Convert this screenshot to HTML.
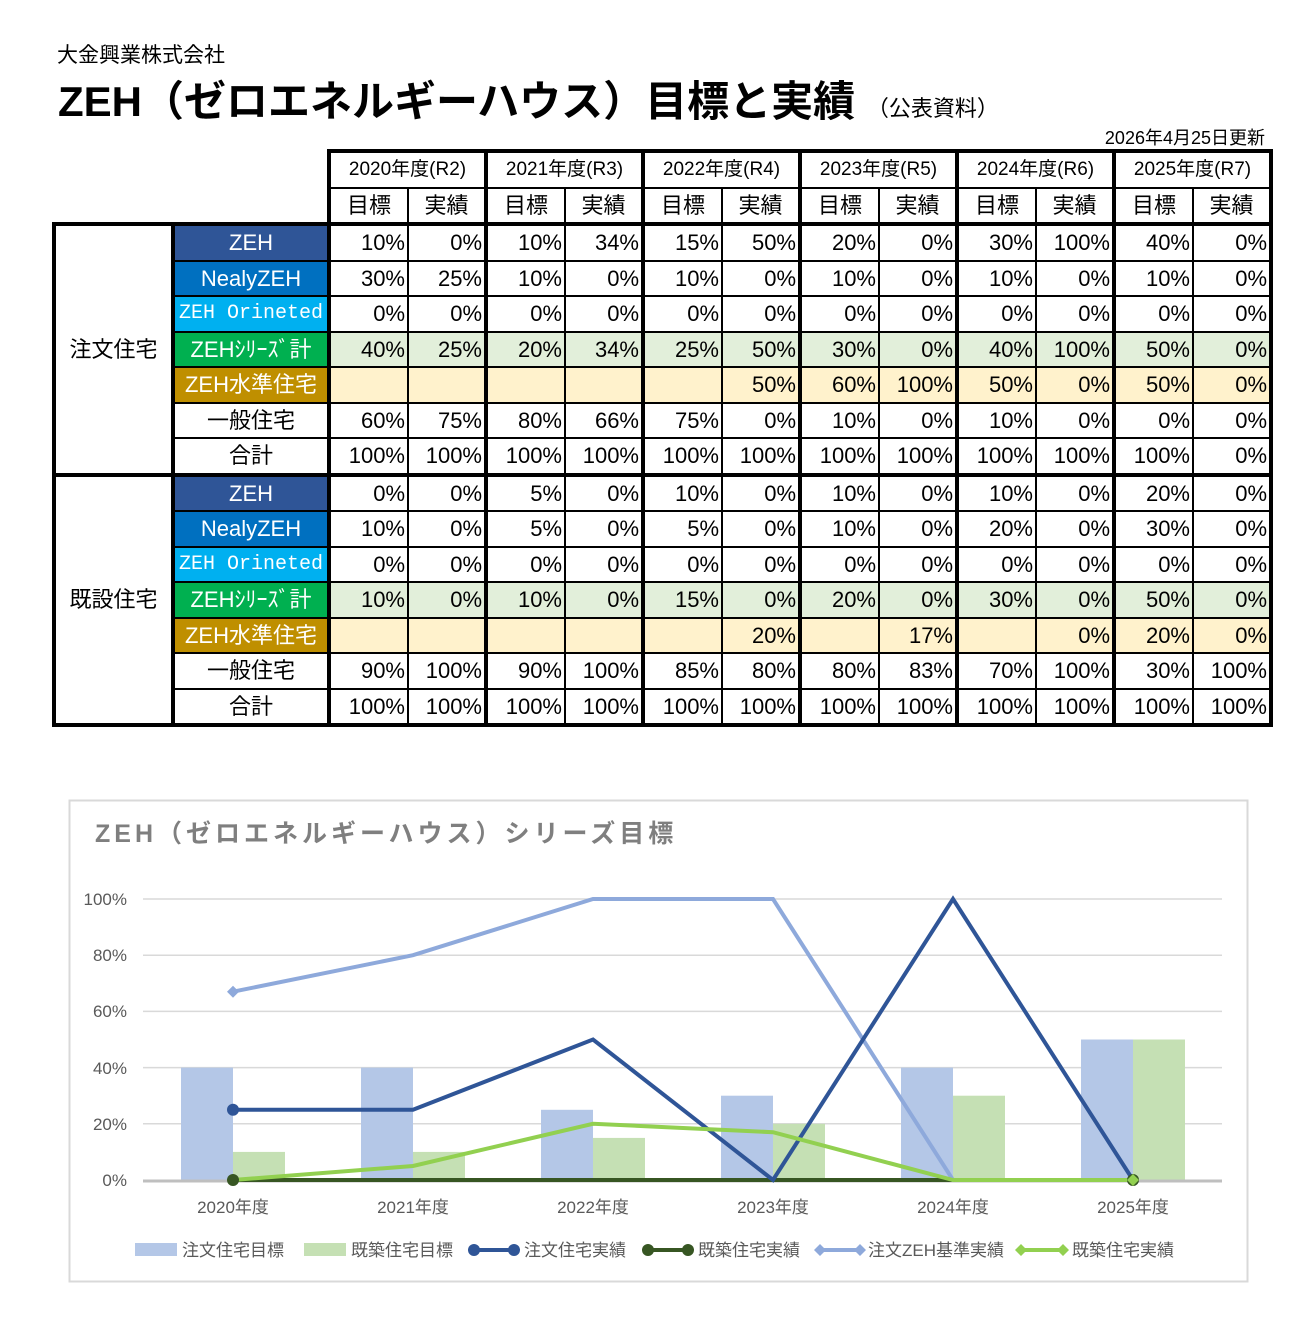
<!DOCTYPE html>
<html><head><meta charset="utf-8">
<style>
body{margin:0;background:#fff;width:1312px;height:1327px;position:relative;overflow:hidden;font-family:"Liberation Sans","Noto Sans CJK JP",sans-serif;}
.t1{position:absolute;left:57px;top:39px;font-size:21px;}
.t2{position:absolute;left:58px;top:68px;font-size:42px;font-weight:bold;transform:scaleX(1.0);transform-origin:left;white-space:nowrap;letter-spacing:0px}
.t2 small{font-size:22px;font-weight:normal}
.dt{position:absolute;right:47px;top:124px;font-size:18px;}
table{position:absolute;left:52px;top:149px;border-collapse:collapse;table-layout:fixed;font-family:"Liberation Sans Narrow","Liberation Sans","Noto Sans CJK JP",sans-serif;}
td{border:2px solid #000;height:33.5px;padding:0 2px;font-size:22px;text-align:right;white-space:nowrap;overflow:hidden;line-height:33px}
td.n{border:none}
td.h{text-align:center;font-size:19px}
td.hs{text-align:center;font-size:22px}
td.L{border-left:4px solid #000}
td.R{border-right:4px solid #000}
td.T{border-top:4px solid #000}
td.B{border-bottom:4px solid #000}
td.g{text-align:center;border:4px solid #000;font-size:22px;background:#fff}
td.c{text-align:center;color:#fff;border-left:4px solid #000;border-right:4px solid #000}
td.cw{text-align:center;color:#000;border-left:4px solid #000;border-right:4px solid #000}
.z1{background:#2F5597}.z2{background:#0070C0}.z3{background:#00B0F0}.z4{background:#00B050}.z5{background:#BF8F00}
tr.s td:not(.c){background:#E2EFDA}
tr.k td:not(.c){background:#FFF2CC}
</style></head><body>
<div class="t1">大金興業株式会社</div>
<div class="t2">ZEH（ゼロエネルギーハウス）目標と実績 <small>（公表資料）</small></div>
<div class="dt">2026年4月25日更新</div>
<table>
<colgroup><col style="width:119px"><col style="width:156px"><col style="width:79px"><col style="width:78px"><col style="width:79px"><col style="width:78px"><col style="width:79px"><col style="width:78px"><col style="width:79px"><col style="width:78px"><col style="width:79px"><col style="width:78px"><col style="width:79px"><col style="width:78px"></colgroup>
<tr><td class="n"></td><td class="n"></td><td colspan="2" class="h L T">2020年度(R2)</td><td colspan="2" class="h L T">2021年度(R3)</td><td colspan="2" class="h L T">2022年度(R4)</td><td colspan="2" class="h L T">2023年度(R5)</td><td colspan="2" class="h L T">2024年度(R6)</td><td colspan="2" class="h L T R">2025年度(R7)</td></tr>
<tr><td class="n"></td><td class="n"></td><td class="hs L">目標</td><td class="hs">実績</td><td class="hs L">目標</td><td class="hs">実績</td><td class="hs L">目標</td><td class="hs">実績</td><td class="hs L">目標</td><td class="hs">実績</td><td class="hs L">目標</td><td class="hs">実績</td><td class="hs L">目標</td><td class="hs R">実績</td></tr>
<tr><td rowspan="7" class="g">注文住宅</td><td class="c z1 T">ZEH</td><td class="L T">10%</td><td class="T">0%</td><td class="L T">10%</td><td class="T">34%</td><td class="L T">15%</td><td class="T">50%</td><td class="L T">20%</td><td class="T">0%</td><td class="L T">30%</td><td class="T">100%</td><td class="L T">40%</td><td class="R T">0%</td></tr>
<tr><td class="c z2">NealyZEH</td><td class="L">30%</td><td>25%</td><td class="L">10%</td><td>0%</td><td class="L">10%</td><td>0%</td><td class="L">10%</td><td>0%</td><td class="L">10%</td><td>0%</td><td class="L">10%</td><td class="R">0%</td></tr>
<tr><td class="c z3" style="font-family:'Liberation Mono',monospace;font-size:20px">ZEH Orineted</td><td class="L">0%</td><td>0%</td><td class="L">0%</td><td>0%</td><td class="L">0%</td><td>0%</td><td class="L">0%</td><td>0%</td><td class="L">0%</td><td>0%</td><td class="L">0%</td><td class="R">0%</td></tr>
<tr class="s"><td class="c z4">ZEHｼﾘｰｽﾞ計</td><td class="L">40%</td><td>25%</td><td class="L">20%</td><td>34%</td><td class="L">25%</td><td>50%</td><td class="L">30%</td><td>0%</td><td class="L">40%</td><td>100%</td><td class="L">50%</td><td class="R">0%</td></tr>
<tr class="k"><td class="c z5">ZEH水準住宅</td><td class="L"></td><td></td><td class="L"></td><td></td><td class="L"></td><td>50%</td><td class="L">60%</td><td>100%</td><td class="L">50%</td><td>0%</td><td class="L">50%</td><td class="R">0%</td></tr>
<tr><td class="cw">一般住宅</td><td class="L">60%</td><td>75%</td><td class="L">80%</td><td>66%</td><td class="L">75%</td><td>0%</td><td class="L">10%</td><td>0%</td><td class="L">10%</td><td>0%</td><td class="L">0%</td><td class="R">0%</td></tr>
<tr><td class="cw B">合計</td><td class="L B">100%</td><td class="B">100%</td><td class="L B">100%</td><td class="B">100%</td><td class="L B">100%</td><td class="B">100%</td><td class="L B">100%</td><td class="B">100%</td><td class="L B">100%</td><td class="B">100%</td><td class="L B">100%</td><td class="R B">0%</td></tr>
<tr><td rowspan="7" class="g">既設住宅</td><td class="c z1">ZEH</td><td class="L">0%</td><td>0%</td><td class="L">5%</td><td>0%</td><td class="L">10%</td><td>0%</td><td class="L">10%</td><td>0%</td><td class="L">10%</td><td>0%</td><td class="L">20%</td><td class="R">0%</td></tr>
<tr><td class="c z2">NealyZEH</td><td class="L">10%</td><td>0%</td><td class="L">5%</td><td>0%</td><td class="L">5%</td><td>0%</td><td class="L">10%</td><td>0%</td><td class="L">20%</td><td>0%</td><td class="L">30%</td><td class="R">0%</td></tr>
<tr><td class="c z3" style="font-family:'Liberation Mono',monospace;font-size:20px">ZEH Orineted</td><td class="L">0%</td><td>0%</td><td class="L">0%</td><td>0%</td><td class="L">0%</td><td>0%</td><td class="L">0%</td><td>0%</td><td class="L">0%</td><td>0%</td><td class="L">0%</td><td class="R">0%</td></tr>
<tr class="s"><td class="c z4">ZEHｼﾘｰｽﾞ計</td><td class="L">10%</td><td>0%</td><td class="L">10%</td><td>0%</td><td class="L">15%</td><td>0%</td><td class="L">20%</td><td>0%</td><td class="L">30%</td><td>0%</td><td class="L">50%</td><td class="R">0%</td></tr>
<tr class="k"><td class="c z5">ZEH水準住宅</td><td class="L"></td><td></td><td class="L"></td><td></td><td class="L"></td><td>20%</td><td class="L"></td><td>17%</td><td class="L"></td><td>0%</td><td class="L">20%</td><td class="R">0%</td></tr>
<tr><td class="cw">一般住宅</td><td class="L">90%</td><td>100%</td><td class="L">90%</td><td>100%</td><td class="L">85%</td><td>80%</td><td class="L">80%</td><td>83%</td><td class="L">70%</td><td>100%</td><td class="L">30%</td><td class="R">100%</td></tr>
<tr><td class="cw B">合計</td><td class="L B">100%</td><td class="B">100%</td><td class="L B">100%</td><td class="B">100%</td><td class="L B">100%</td><td class="B">100%</td><td class="L B">100%</td><td class="B">100%</td><td class="L B">100%</td><td class="B">100%</td><td class="L B">100%</td><td class="R B">100%</td></tr>
</table>

<svg style="position:absolute;left:0;top:0" width="1312" height="1327" font-family="Liberation Sans, Noto Sans CJK JP, sans-serif">
<rect x="69.5" y="800.5" width="1178" height="481" fill="#fff" stroke="#d9d9d9" stroke-width="2"/>
<text x="95" y="842" font-size="25" font-weight="bold" fill="#7f7f7f" letter-spacing="4">ZEH（ゼロエネルギーハウス）シリーズ目標</text>
<g stroke="#d9d9d9" stroke-width="1.5">
<line x1="143" x2="1222" y1="899" y2="899"/><line x1="143" x2="1222" y1="955.2" y2="955.2"/><line x1="143" x2="1222" y1="1011.4" y2="1011.4"/><line x1="143" x2="1222" y1="1067.6" y2="1067.6"/><line x1="143" x2="1222" y1="1123.8" y2="1123.8"/>
</g>
<g font-size="17" fill="#595959" text-anchor="end">
<text x="127" y="905">100%</text><text x="127" y="961">80%</text><text x="127" y="1017">60%</text><text x="127" y="1074">40%</text><text x="127" y="1130">20%</text><text x="127" y="1186">0%</text>
</g>
<g fill="#B4C7E7">
<rect x="181" y="1067.6" width="52" height="112.4"/><rect x="361" y="1067.6" width="52" height="112.4"/><rect x="541" y="1109.8" width="52" height="70.2"/><rect x="721" y="1095.7" width="52" height="84.3"/><rect x="901" y="1067.6" width="52" height="112.4"/><rect x="1081" y="1039.5" width="52" height="140.5"/>
</g>
<g fill="#C5E0B4">
<rect x="233" y="1151.9" width="52" height="28.1"/><rect x="413" y="1151.9" width="52" height="28.1"/><rect x="593" y="1137.9" width="52" height="42.1"/><rect x="773" y="1123.8" width="52" height="56.2"/><rect x="953" y="1095.7" width="52" height="84.3"/><rect x="1133" y="1039.5" width="52" height="140.5"/>
</g>
<line x1="143" x2="1222" y1="1181" y2="1181" stroke="#bfbfbf" stroke-width="3"/>
<polyline points="233,1180 413,1180 593,1180 773,1180 953,1180 1133,1180" fill="none" stroke="#375623" stroke-width="4"/>
<polyline points="233,991.7 413,955.2 593,899 773,899 953,1180 1133,1180" fill="none" stroke="#8EA9DB" stroke-width="4"/>
<polyline points="233,1109.8 413,1109.8 593,1039.5 773,1180 953,899 1133,1180" fill="none" stroke="#2F5597" stroke-width="4"/>
<polyline points="233,1180 413,1166 593,1123.8 773,1132.2 953,1180 1133,1180" fill="none" stroke="#92D050" stroke-width="4"/>
<circle cx="233" cy="1109.8" r="6" fill="#2F5597"/>
<circle cx="233" cy="1180" r="6" fill="#375623"/>
<path d="M233,985.7 L239,991.7 L233,997.7 L227,991.7Z" fill="#8EA9DB"/>
<circle cx="1133" cy="1180" r="6" fill="#375623"/>
<path d="M1133,1174 L1139,1180 L1133,1186 L1127,1180Z" fill="#92D050"/>
<g font-size="17" fill="#595959" text-anchor="middle">
<text x="233" y="1213">2020年度</text><text x="413" y="1213">2021年度</text><text x="593" y="1213">2022年度</text><text x="773" y="1213">2023年度</text><text x="953" y="1213">2024年度</text><text x="1133" y="1213">2025年度</text>
</g>
<g font-size="17" fill="#595959">
<rect x="135" y="1243" width="42" height="13" fill="#B4C7E7"/><text x="182" y="1256">注文住宅目標</text>
<rect x="304" y="1243" width="42" height="13" fill="#C5E0B4"/><text x="351" y="1256">既築住宅目標</text>
<line x1="474" x2="514" y1="1250" y2="1250" stroke="#2F5597" stroke-width="4"/><circle cx="474" cy="1250" r="6" fill="#2F5597"/><circle cx="514" cy="1250" r="6" fill="#2F5597"/><text x="524" y="1256">注文住宅実績</text>
<line x1="648" x2="688" y1="1250" y2="1250" stroke="#375623" stroke-width="4"/><circle cx="648" cy="1250" r="6" fill="#375623"/><circle cx="688" cy="1250" r="6" fill="#375623"/><text x="698" y="1256">既築住宅実績</text>
<line x1="820" x2="860" y1="1250" y2="1250" stroke="#8EA9DB" stroke-width="4"/><path d="M820,1244 L826,1250 L820,1256 L814,1250Z M860,1244 L866,1250 L860,1256 L854,1250Z" fill="#8EA9DB"/><text x="868" y="1256">注文ZEH基準実績</text>
<line x1="1021" x2="1063" y1="1250" y2="1250" stroke="#92D050" stroke-width="4"/><path d="M1021,1244 L1027,1250 L1021,1256 L1015,1250Z M1063,1244 L1069,1250 L1063,1256 L1057,1250Z" fill="#92D050"/><text x="1072" y="1256">既築住宅実績</text>
</g>
</svg>
</body></html>
